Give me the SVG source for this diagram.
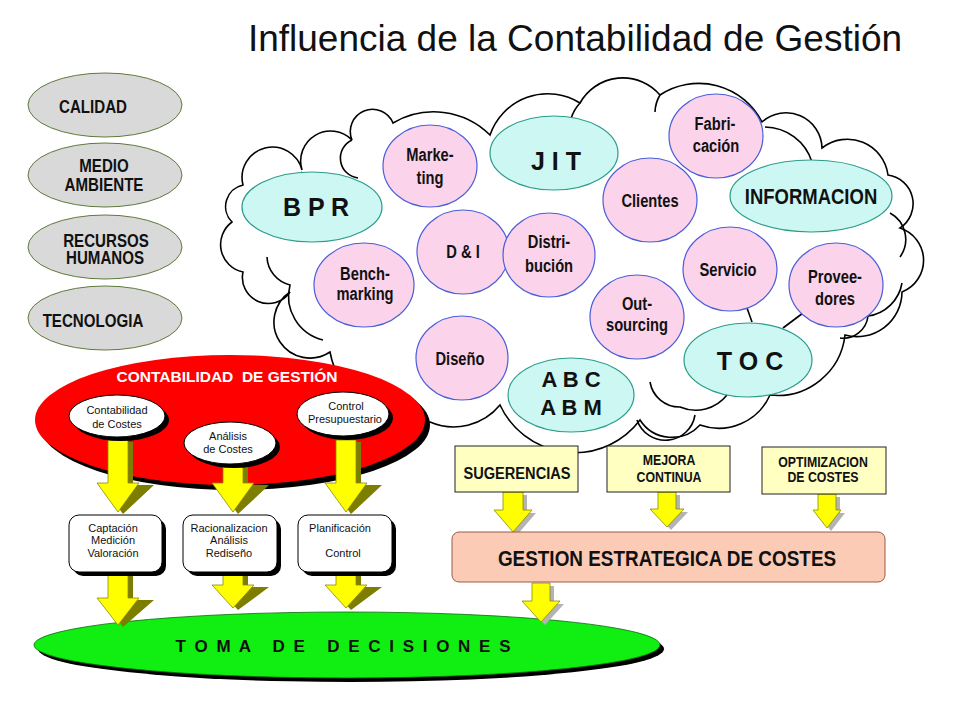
<svg xmlns="http://www.w3.org/2000/svg" width="960" height="720" viewBox="0 0 960 720">
<style>
.t{font-family:"Liberation Sans",Arial,sans-serif;text-anchor:middle;fill:#111}
.b{font-weight:bold}
.pk{fill:#fbd3ea;stroke:#4a5ed8;stroke-width:1.2}
.cy{fill:#cdf7f3;stroke:#2a9c8a;stroke-width:1.2}
.gr{fill:#d9d9d9;stroke:#5f7a3c;stroke-width:1}
.cl{fill:none;stroke:#000;stroke-width:1.6}
.ya{fill:#ffff00;stroke:#8a8a00;stroke-width:0.8}
.yo{fill:#7d7d00}
.ys{fill:#b3b3b3}
.sh{fill:#000}
.wb{fill:#fff;stroke:#000;stroke-width:1}
.note{fill:#ffffc2;stroke:#222;stroke-width:1}
.n{font-size:18px}
.p{font-size:17.5px}
</style>
<rect width="960" height="720" fill="#fff"/>
<text class="t" x="575" y="51" font-size="37">Influencia de la Contabilidad de Gestión</text>

<g id="cloud">
<path class="cl" d="M330 352 A36 36 0 0 1 290 292 A26 26 0 0 1 243 272 A28 28 0 0 1 232 222 A22 22 0 0 1 243 185 A30 30 0 0 1 302 170 A30 30 0 0 1 352 140 A22 22 0 0 1 393 123 A80 80 0 0 1 490 135 A61 61 0 0 1 580 103 A49 49 0 0 1 660 95 A71 71 0 0 1 762 122 A36 36 0 0 1 822 148 A41 41 0 0 1 888 175 A29 29 0 0 1 900 228 A34 34 0 0 1 902 292 A45 45 0 0 1 845 335 A68 68 0 0 1 770 395 A56 56 0 0 1 700 425 A38 38 0 0 1 640 420 A82 82 0 0 1 500 405 A60 60 0 0 1 430 422 A87 87 0 0 1 330 352 Z" style="fill:#fff"/>
<path class="cl" d="M765 127 A50 50 0 0 1 812 162"/>
<path class="cl" d="M890 213 A30 30 0 0 1 900 257"/>
<path class="cl" d="M902 283 A40 40 0 0 1 868 316 A25 25 0 0 1 840 338"/>
<path class="cl" d="M267 257 A30 30 0 0 0 290 285 A45 45 0 0 0 323 340"/>
<path class="cl" d="M650 382 A30 30 0 0 0 680 407 A40 40 0 0 0 727 395"/>
<path class="cl" d="M637 420 A30 30 0 0 0 695 415"/>
<path class="cl" d="M302 172 A30 30 0 0 0 300 210"/>
<path class="cl" d="M352 140 A20 20 0 0 0 358 178"/>
<path class="cl" d="M580 103 A40 40 0 0 0 570 135"/>
<path class="cl" d="M660 95 A35 35 0 0 0 655 112"/>
<path class="cl" d="M747 308 L752 322"/>
<path class="cl" d="M803 313 L783 328"/>
</g>

<g id="marketing"><ellipse class="pk" cx="430" cy="166" rx="47" ry="41"/><text class="t b p" transform="matrix(.84 0 0 1 430 0)" y="161">Marke-</text><text class="t b p" transform="matrix(.84 0 0 1 430 0)" y="184">ting</text></g>
<g id="jit"><ellipse class="cy" cx="554" cy="153" rx="64" ry="37"/><text class="t b" x="556" y="170" font-size="25">J I T</text></g>
<g id="bpr"><ellipse class="cy" cx="312" cy="207" rx="70" ry="35"/><text class="t b" x="316" y="216" font-size="25">B P R</text></g>
<g id="fabricacion"><ellipse class="pk" cx="716" cy="136" rx="47" ry="42"/><text class="t b p" transform="matrix(.84 0 0 1 715 0)" y="130">Fabri-</text><text class="t b p" transform="matrix(.84 0 0 1 716 0)" y="152">cación</text></g>
<g id="clientes"><ellipse class="pk" cx="650" cy="200" rx="47" ry="42"/><text class="t b p" transform="matrix(.84 0 0 1 650 0)" y="207">Clientes</text></g>
<g id="informacion"><ellipse class="cy" cx="811" cy="196" rx="81" ry="36"/><text class="t b" transform="matrix(.86 0 0 1 811 0)" y="204" font-size="21.5">INFORMACION</text></g>
<g id="di"><ellipse class="pk" cx="463" cy="252" rx="46" ry="42"/><text class="t b p" transform="matrix(.84 0 0 1 463 0)" y="258">D &amp; I</text></g>
<g id="distribucion"><ellipse class="pk" cx="549" cy="255" rx="46" ry="42"/><text class="t b p" transform="matrix(.84 0 0 1 549 0)" y="248">Distri-</text><text class="t b p" transform="matrix(.84 0 0 1 549 0)" y="272">bución</text></g>
<g id="benchmarking"><ellipse class="pk" cx="364" cy="285" rx="50" ry="42"/><text class="t b p" transform="matrix(.84 0 0 1 365 0)" y="280">Bench-</text><text class="t b p" transform="matrix(.84 0 0 1 365 0)" y="300">marking</text></g>
<g id="servicio"><ellipse class="pk" cx="730" cy="269" rx="47" ry="42"/><text class="t b p" transform="matrix(.84 0 0 1 728 0)" y="276">Servicio</text></g>
<g id="proveedores"><ellipse class="pk" cx="836" cy="285" rx="47" ry="42"/><text class="t b p" transform="matrix(.84 0 0 1 835 0)" y="283">Provee-</text><text class="t b p" transform="matrix(.84 0 0 1 835 0)" y="305">dores</text></g>
<g id="outsourcing"><ellipse class="pk" cx="637" cy="317" rx="47" ry="42"/><text class="t b p" transform="matrix(.84 0 0 1 637 0)" y="310">Out-</text><text class="t b p" transform="matrix(.84 0 0 1 637 0)" y="331">sourcing</text></g>
<g id="diseno"><ellipse class="pk" cx="462" cy="358" rx="46" ry="42"/><text class="t b p" transform="matrix(.84 0 0 1 460 0)" y="365">Diseño</text></g>
<g id="toc"><ellipse class="cy" cx="748" cy="360" rx="64" ry="37"/><text class="t b" x="750" y="370" font-size="25">T O C</text></g>
<g id="abc"><ellipse class="cy" cx="571" cy="395" rx="63" ry="37"/><text class="t b" x="571" y="387" font-size="22">A B C</text><text class="t b" x="571" y="415" font-size="22">A B M</text></g>

<g id="calidad"><ellipse class="gr" cx="105" cy="105" rx="77" ry="32"/><text class="t b n" transform="matrix(.84 0 0 1 93 0)" y="113">CALIDAD</text></g>
<g id="medio-ambiente"><ellipse class="gr" cx="105" cy="175" rx="77" ry="32"/><text class="t b n" transform="matrix(.84 0 0 1 104 0)" y="172">MEDIO</text><text class="t b n" transform="matrix(.84 0 0 1 104 0)" y="191">AMBIENTE</text></g>
<g id="recursos-humanos"><ellipse class="gr" cx="105" cy="247" rx="77" ry="32"/><text class="t b n" transform="matrix(.84 0 0 1 106 0)" y="247">RECURSOS</text><text class="t b n" transform="matrix(.84 0 0 1 105 0)" y="264">HUMANOS</text></g>
<g id="tecnologia"><ellipse class="gr" cx="105" cy="318" rx="77" ry="32"/><text class="t b n" transform="matrix(.84 0 0 1 93 0)" y="327">TECNOLOGIA</text></g>

<g id="contabilidad-gestion">
<ellipse class="sh" cx="235" cy="425" rx="195" ry="65"/>
<ellipse cx="230" cy="420" rx="195" ry="65" fill="#ff0000"/>
<text class="t b" x="227" y="382" font-size="15.5" style="fill:#fff;white-space:pre">CONTABILIDAD  DE GESTIÓN</text>
</g>

<g id="toma-decisiones">
<ellipse class="sh" cx="351" cy="649" rx="313" ry="33"/>
<ellipse cx="347" cy="645" rx="313" ry="33" fill="#11ee11" stroke="#0a6a0a" stroke-width="0.8"/>
<text class="t b" x="344" y="652" font-size="17" letter-spacing="2" style="white-space:pre">T O M A   D E   D E C I S I O N E S</text>
</g>

<g id="connectors">
<path class="yo" d="M113 442H133V485H154L123 514L102 485H113Z"/>
<path class="ya" d="M108 440H128V483H139L118 512L97 483H108Z"/>
<path class="yo" d="M228 464H248V485H269L238 514L217 485H228Z"/>
<path class="ya" d="M223 462H243V483H254L233 512L212 483H223Z"/>
<path class="yo" d="M341 442H361V485H382L351 514L330 485H341Z"/>
<path class="ya" d="M336 440H356V483H367L346 512L325 483H336Z"/>
<path class="yo" d="M113 574H133V600H154L123 627L102 600H113Z"/>
<path class="ya" d="M108 572H128V598H139L118 625L97 598H108Z"/>
<path class="yo" d="M228 574H248V587H269L238 610L217 587H228Z"/>
<path class="ya" d="M223 572H243V585H254L233 608L212 585H223Z"/>
<path class="yo" d="M341 574H361V587H382L351 610L330 587H341Z"/>
<path class="ya" d="M336 572H356V585H367L346 608L325 585H336Z"/>
<path class="ys" d="M507 495H527V513H536L517 535L498 513H507Z"/>
<path class="ya" d="M503 492H523V510H532L513 532L494 510H503Z"/>
<path class="ys" d="M662 495H680V512H688L671 530L654 512H662Z"/>
<path class="ya" d="M658 492H676V509H684L667 527L650 509H658Z"/>
<path class="ys" d="M822 497H840V513H845L831 531L817 513H822Z"/>
<path class="ya" d="M818 494H836V510H841L827 528L813 510H818Z"/>
<path class="ys" d="M536 586H554V604H564L545 625L526 604H536Z"/>
<path class="ya" d="M532 583H550V601H560L541 622L522 601H532Z"/>
</g>

<g id="contabilidad-costes"><ellipse class="sh" cx="121" cy="420" rx="48" ry="21"/><ellipse class="wb" cx="117" cy="416" rx="48" ry="21"/><text class="t" x="117" y="414" font-size="11">Contabilidad</text><text class="t" x="117" y="428" font-size="11">de Costes</text></g>
<g id="analisis-costes"><ellipse class="sh" cx="234" cy="447" rx="46" ry="21"/><ellipse class="wb" cx="230" cy="443" rx="46" ry="21"/><text class="t" x="228" y="440" font-size="11">Análisis</text><text class="t" x="228" y="453" font-size="11">de Costes</text></g>
<g id="control-presupuestario"><ellipse class="sh" cx="347" cy="418" rx="46" ry="22"/><ellipse class="wb" cx="343" cy="414" rx="46" ry="22"/><text class="t" x="346" y="410" font-size="11">Control</text><text class="t" x="345" y="423" font-size="11">Presupuestario</text></g>

<g id="captacion"><rect class="sh" x="73" y="519" width="93" height="57" rx="10"/><rect class="wb" x="69" y="515" width="93" height="57" rx="10"/><text class="t" x="113" y="532" font-size="11">Captación</text><text class="t" x="113" y="544" font-size="11">Medición</text><text class="t" x="113" y="557" font-size="11">Valoración</text></g>
<g id="racionalizacion"><rect class="sh" x="187" y="519" width="94" height="57" rx="10"/><rect class="wb" x="183" y="515" width="94" height="57" rx="10"/><text class="t" x="229" y="532" font-size="11">Racionalizacion</text><text class="t" x="229" y="544" font-size="11">Análisis</text><text class="t" x="229" y="557" font-size="11">Rediseño</text></g>
<g id="planificacion"><rect class="sh" x="302" y="519" width="94" height="57" rx="10"/><rect class="wb" x="298" y="515" width="94" height="57" rx="10"/><text class="t" x="340" y="532" font-size="11">Planificación</text><text class="t" x="343" y="557" font-size="11">Control</text></g>

<g id="sugerencias"><rect class="note" x="455" y="446" width="123" height="46"/><text class="t b" transform="matrix(.86 0 0 1 517 0)" y="479" font-size="17">SUGERENCIAS</text></g>
<g id="mejora-continua"><rect class="note" x="607" y="446" width="123" height="46"/><text class="t b" transform="matrix(.88 0 0 1 669 0)" y="465" font-size="14">MEJORA</text><text class="t b" transform="matrix(.88 0 0 1 669 0)" y="482" font-size="14">CONTINUA</text></g>
<g id="optimizacion-costes"><rect class="note" x="762" y="447" width="124" height="47"/><text class="t b" transform="matrix(.88 0 0 1 823 0)" y="467" font-size="14">OPTIMIZACION</text><text class="t b" transform="matrix(.88 0 0 1 823 0)" y="482" font-size="14">DE COSTES</text></g>
<g id="gestion-estrategica"><rect x="452" y="532" width="433" height="50" rx="7" fill="#fbcbb6" stroke="#9c5a45" stroke-width="1"/><text class="t b" transform="matrix(.86 0 0 1 667 0)" y="566" font-size="22">GESTION ESTRATEGICA DE COSTES</text></g>
</svg>
